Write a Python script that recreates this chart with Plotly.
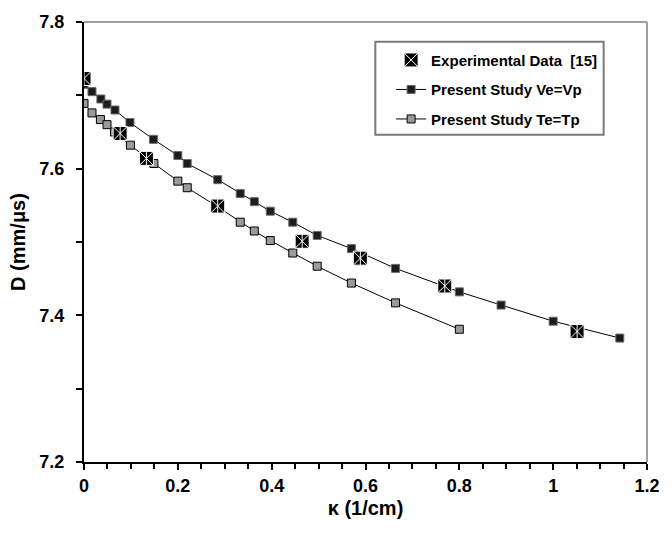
import plotly.graph_objects as go

# Curvature (1/cm) and detonation velocity D (mm/us)
kappa_exp = [0.0, 0.077, 0.133, 0.285, 0.465, 0.589, 0.769, 1.051]
d_exp = [7.723, 7.648, 7.614, 7.549, 7.501, 7.478, 7.440, 7.378]

kappa_v = [0.0, 0.017, 0.036, 0.049, 0.066, 0.098, 0.148, 0.200, 0.220, 0.285,
           0.333, 0.363, 0.397, 0.445, 0.497, 0.570, 0.664, 0.800, 0.889, 1.000, 1.142]
d_v = [7.715, 7.705, 7.695, 7.688, 7.680, 7.663, 7.640, 7.618, 7.607, 7.585,
       7.566, 7.555, 7.542, 7.527, 7.509, 7.491, 7.464, 7.432, 7.414, 7.392, 7.369]

kappa_t = [0.0, 0.017, 0.035, 0.049, 0.065, 0.099, 0.149, 0.200, 0.220, 0.285,
           0.333, 0.363, 0.397, 0.445, 0.497, 0.570, 0.664, 0.800]
d_t = [7.689, 7.676, 7.667, 7.660, 7.650, 7.632, 7.607, 7.583, 7.574, 7.548,
       7.527, 7.515, 7.502, 7.485, 7.467, 7.444, 7.417, 7.381]

x_ticks = [0, 0.2, 0.4, 0.6, 0.8, 1.0, 1.2]
x_tick_text = ["0", "0.2", "0.4", "0.6", "0.8", "1", "1.2"]
y_ticks = [7.2, 7.4, 7.6, 7.8]
y_tick_text = ["7.2", "7.4", "7.6", "7.8"]

FONT = "Liberation Sans, Arial, sans-serif"

fig = go.Figure()

fig.add_trace(go.Scatter(
    x=kappa_v, y=d_v, mode="lines+markers",
    name="<b>Present Study Ve=Vp</b>",
    line=dict(color="black", width=1),
    marker=dict(symbol="square", size=8, color="#1c1c1c",
                line=dict(color="#6a6a6a", width=1)),
    legendgroup="b", legendrank=2,
))
fig.add_trace(go.Scatter(
    x=kappa_t, y=d_t, mode="lines+markers",
    name="<b>Present Study Te=Tp</b>",
    line=dict(color="black", width=1),
    marker=dict(symbol="square", size=8, color="#9a9a9a",
                line=dict(color="black", width=1)),
    legendgroup="c", legendrank=3,
))
fig.add_trace(go.Scatter(
    x=kappa_exp, y=d_exp, mode="markers",
    name="<b>Experimental Data  [15]</b>",
    marker=dict(symbol="square-x", size=14, color="black",
                line=dict(color="white", width=1)),
    legendgroup="a", legendrank=1,
))
# vertical stroke completing the asterisk on the experimental points
fig.add_trace(go.Scatter(
    x=kappa_exp, y=d_exp, mode="markers", showlegend=False, hoverinfo="skip",
    marker=dict(symbol="line-ns", size=10, color="white",
                line=dict(color="white", width=1)),
))

fig.update_layout(
    width=672, height=535,
    margin=dict(l=84, r=16, t=16, b=73),
    paper_bgcolor="white", plot_bgcolor="white",
    font=dict(family=FONT, size=16, color="black"),
    showlegend=True,
    legend=dict(
        x=0.5455, y=0.9507, xanchor="left", yanchor="top",
        bgcolor="rgba(0,0,0,0)", borderwidth=0,
        font=dict(family=FONT, size=15, color="black"),
        traceorder="grouped", tracegroupgap=7,
    ),
    shapes=[
        # legend frame
        dict(type="rect", xref="paper", yref="paper", layer="below",
             x0=0.5175, x1=0.923, y0=0.744, y1=0.955,
             fillcolor="white", line=dict(color="#7a7a7a", width=2)),
        # light top and right frame of the plot area
        dict(type="line", xref="paper", yref="paper", x0=0, x1=1, y0=1, y1=1,
             line=dict(color="#a0a0a0", width=2)),
        dict(type="line", xref="paper", yref="paper", x0=1, x1=1, y0=0, y1=1,
             line=dict(color="#a0a0a0", width=2)),
    ],
)

fig.update_xaxes(
    range=[0, 1.2], tickvals=x_ticks, ticktext=x_tick_text,
    showgrid=False, zeroline=False,
    showline=True, linecolor="black", linewidth=2,
    ticks="outside", ticklen=6, tickwidth=2, tickcolor="black",
    tickfont=dict(family=FONT, size=18, weight="bold"),
    ticklabelstandoff=0,
    minor=dict(dtick=0.05, ticks="outside", ticklen=5, tickwidth=2,
               tickcolor="black", showgrid=False),
    title=dict(text="<b>\u03ba (1/cm)</b>", font=dict(family=FONT, size=20),
               standoff=6),
)
fig.update_yaxes(
    range=[7.2, 7.8], tickvals=y_ticks, ticktext=y_tick_text,
    showgrid=False, zeroline=False,
    showline=True, linecolor="black", linewidth=2,
    ticks="outside", ticklen=6, tickwidth=2, tickcolor="black",
    tickfont=dict(family=FONT, size=18, weight="bold"),
    ticklabelstandoff=8,
    minor=dict(dtick=0.1, ticks="outside", ticklen=6, tickwidth=2,
               tickcolor="black", showgrid=False),
    title=dict(text="<b>D (mm/\u03bcs)</b>", font=dict(family=FONT, size=20),
               standoff=8),
)

fig.write_html("out.html")
